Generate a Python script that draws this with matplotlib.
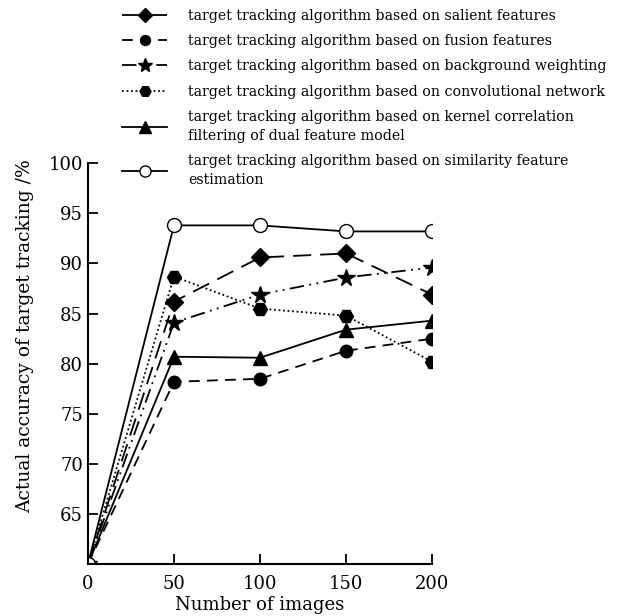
import matplotlib
matplotlib.use("Agg")
import matplotlib.pyplot as plt

# data
n_images = [0, 50, 100, 150, 200]
salient = [60, 86.2, 90.6, 91.0, 86.9]
fusion = [60, 78.2, 78.5, 81.3, 82.5]
background = [60, 84.1, 86.9, 88.6, 89.6]
convolutional = [60, 88.7, 85.5, 84.8, 80.2]
kernel_dual = [60, 80.7, 80.6, 83.4, 84.3]
similarity = [60, 93.8, 93.8, 93.2, 93.2]

labels = [
    "target tracking algorithm based on salient features",
    "target tracking algorithm based on fusion features",
    "target tracking algorithm based on background weighting",
    "target tracking algorithm based on convolutional network",
    "target tracking algorithm based on kernel correlation\nfiltering of dual feature model",
    "target tracking algorithm based on similarity feature\nestimation",
]
yticks = [65, 70, 75, 80, 85, 90, 95, 100]
xticks = [0, 50, 100, 150, 200]

plt.rcParams['font.family'] = ['DejaVu Serif']

fig = plt.figure(figsize=(6.28, 6.16), dpi=100)
ax = fig.add_axes([0.140, 0.084, 0.548, 0.651])

k = dict(color="black", lw=1.3, mfc="black", mec="black")
l1, = ax.plot(n_images, salient, marker="D", ms=9, dashes=(10, 5), **k)
l2, = ax.plot(n_images, fusion, marker="o", ms=9, dashes=(6, 4), **k)
l3, = ax.plot(n_images, background, marker="*", ms=13, dashes=(8, 3, 1, 3, 1, 3), **k)
l4, = ax.plot(n_images, convolutional, marker="H", ms=10, dashes=(1, 1.5), **k)
l5, = ax.plot(n_images, kernel_dual, marker="^", ms=10, **k)
l6, = ax.plot(n_images, similarity, marker="o", ms=10, color="black", lw=1.3, mfc="white", mec="black")

ax.set_xlim(0, 200)
ax.set_ylim(60, 100)
ax.set_xticks(xticks)
ax.set_yticks(yticks)
ax.tick_params(direction="in", length=7, width=1.3, labelsize=13)
ax.tick_params(axis="x", pad=8)
for s in ["top", "right"]:
    ax.spines[s].set_visible(False)
for s in ["left", "bottom"]:
    ax.spines[s].set_linewidth(1.5)
ax.set_xlabel("Number of images", fontsize=13, labelpad=2)
ax.set_ylabel("Actual accuracy of target tracking /%", fontsize=13.5)
ax.yaxis.set_label_coords(-0.155, 0.57)

leg = fig.legend([l1, l2, l3, l4, l5, l6], labels, loc="upper left",
                 bbox_to_anchor=(0.185, 0.995), frameon=False, fontsize=10.2,
                 handlelength=3.2, markerscale=0.8, labelspacing=0.8,
                 handletextpad=1.5, borderaxespad=0)
for t in leg.get_texts():
    t.set_linespacing(1.45)

fig.savefig("out.png", dpi=100)
